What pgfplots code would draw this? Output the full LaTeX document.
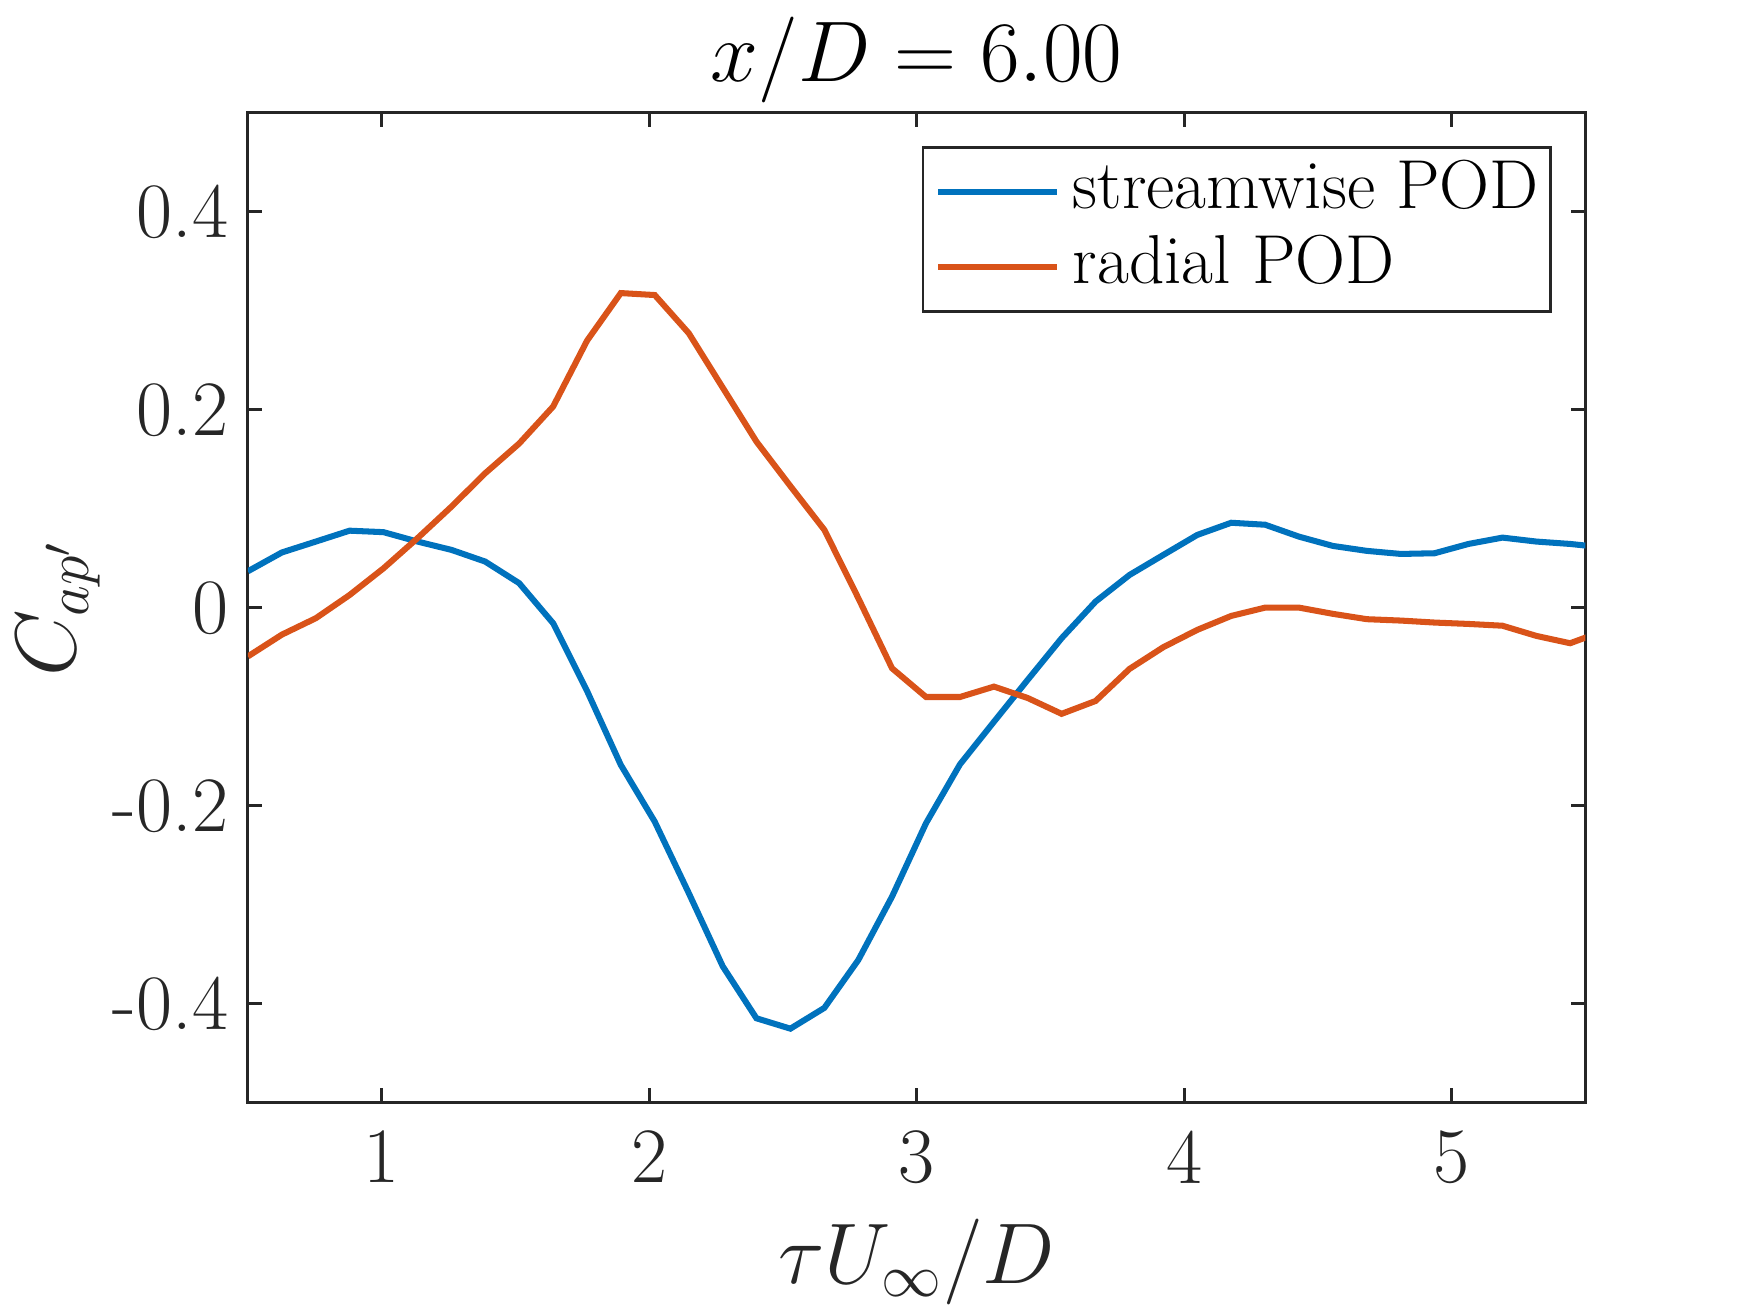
\documentclass[border=0pt]{standalone}
\usepackage{fontspec}
\usepackage{pgfplots}
\usepackage{pgfplotstable}
\pgfplotsset{compat=1.18}
\definecolor{mblue}{rgb}{0,0.447,0.741}
\definecolor{morange}{rgb}{0.85,0.325,0.098}
\definecolor{axgray}{rgb}{0.15,0.15,0.15}

\pgfplotstableread{
x y
0.500 0.037
0.627 0.056
0.754 0.067
0.880 0.078
1.007 0.0765
1.134 0.067
1.261 0.0586
1.387 0.0468
1.514 0.025
1.641 -0.0155
1.768 -0.084
1.894 -0.1586
2.021 -0.216
2.148 -0.288
2.275 -0.362
2.401 -0.4145
2.528 -0.425
2.655 -0.404
2.782 -0.3556
2.908 -0.2916
3.035 -0.2175
3.162 -0.158
3.289 -0.115
3.415 -0.0727
3.542 -0.0306
3.669 0.0064
3.796 0.0333
3.922 0.0535
4.049 0.0737
4.176 0.086
4.303 0.084
4.429 0.072
4.556 0.0626
4.683 0.0576
4.810 0.0545
4.936 0.0552
5.063 0.0646
5.190 0.071
5.317 0.067
5.443 0.0646
5.570 0.061
}\streamwise

\pgfplotstableread{
x y
0.500 -0.049
0.627 -0.027
0.754 -0.0104
0.880 0.013
1.007 0.040
1.134 0.0704
1.261 0.1023
1.387 0.136
1.514 0.166
1.641 0.2034
1.768 0.270
1.894 0.318
2.021 0.316
2.148 0.2775
2.275 0.2225
2.401 0.168
2.528 0.123
2.655 0.0788
2.782 0.0098
2.908 -0.061
3.035 -0.090
3.162 -0.090
3.289 -0.0795
3.415 -0.091
3.542 -0.107
3.669 -0.094
3.796 -0.0616
3.922 -0.0397
4.049 -0.0222
4.176 -0.0081
4.303 0.0003
4.429 0.0003
4.556 -0.006
4.683 -0.0114
4.810 -0.0128
4.936 -0.0148
5.063 -0.0162
5.190 -0.018
5.317 -0.0283
5.443 -0.0357
5.570 -0.023
}\radial

\begin{document}
\begin{tikzpicture}
\path[use as bounding box] (-59.5bp,-50.3bp) rectangle (360.5bp,264.7bp);
\begin{axis}[
  at={(0,0)}, anchor=south west,
  width=321bp, height=237.6bp, scale only axis,
  xmin=0.5, xmax=5.5, ymin=-0.5, ymax=0.5,
  xtick={1,2,3,4,5}, ytick={-0.4,-0.2,0,0.2,0.4},
  tick align=inside, tick pos=both, major tick length=3.5bp,
  minor tick num=0,
  axis line style={axgray, line width=0.7bp},
  every tick/.style={axgray, line width=0.7bp},
  tick label style={font=\fontsize{18.9}{22}\selectfont, text=axgray},
  /pgf/number format/assume math mode=true,
  xticklabel style={yshift=-3.2bp},
  yticklabel style={xshift=-1.2bp},
  every axis title shift=0pt,
  title={$x/D = 6.00$},
  title style={at={(axis description cs:0.5,1.0316)}, anchor=base, font=\fontsize{20.5}{24}\selectfont},
  xlabel={$\tau U_\infty/D$},
  xlabel style={at={(axis description cs:0.5,-0.1827)}, anchor=base, font=\fontsize{21}{25}\selectfont, text=axgray},
  ylabel={$C_{ap'}$},
  ylabel style={at={(axis description cs:-0.1287,0.5)}, anchor=base, font=\fontsize{21}{25}\selectfont, text=axgray},
  legend cell align=left,
  legend image code/.code={\draw[#1] (-1.3bp,0bp) -- (27.2bp,0bp);},
  legend style={at={(axis description cs:1,1)}, anchor=north east,
    xshift=-8bp, yshift=-7.9bp,
    draw=axgray, line width=0.7bp, fill=white,
    font=\fontsize{16.7}{20}\selectfont,
    inner xsep=2.9bp, inner ysep=1.7bp, column sep=3.1bp, row sep=0pt,
    nodes={inner sep=0pt, text height=13bp, text depth=5bp}},
]
\addplot[mblue, line width=1.45bp] table[x=x,y=y] {\streamwise};
\addlegendentry{streamwise POD}
\addplot[morange, line width=1.45bp] table[x=x,y=y] {\radial};
\addlegendentry{radial POD}
\end{axis}
\end{tikzpicture}
\end{document}
